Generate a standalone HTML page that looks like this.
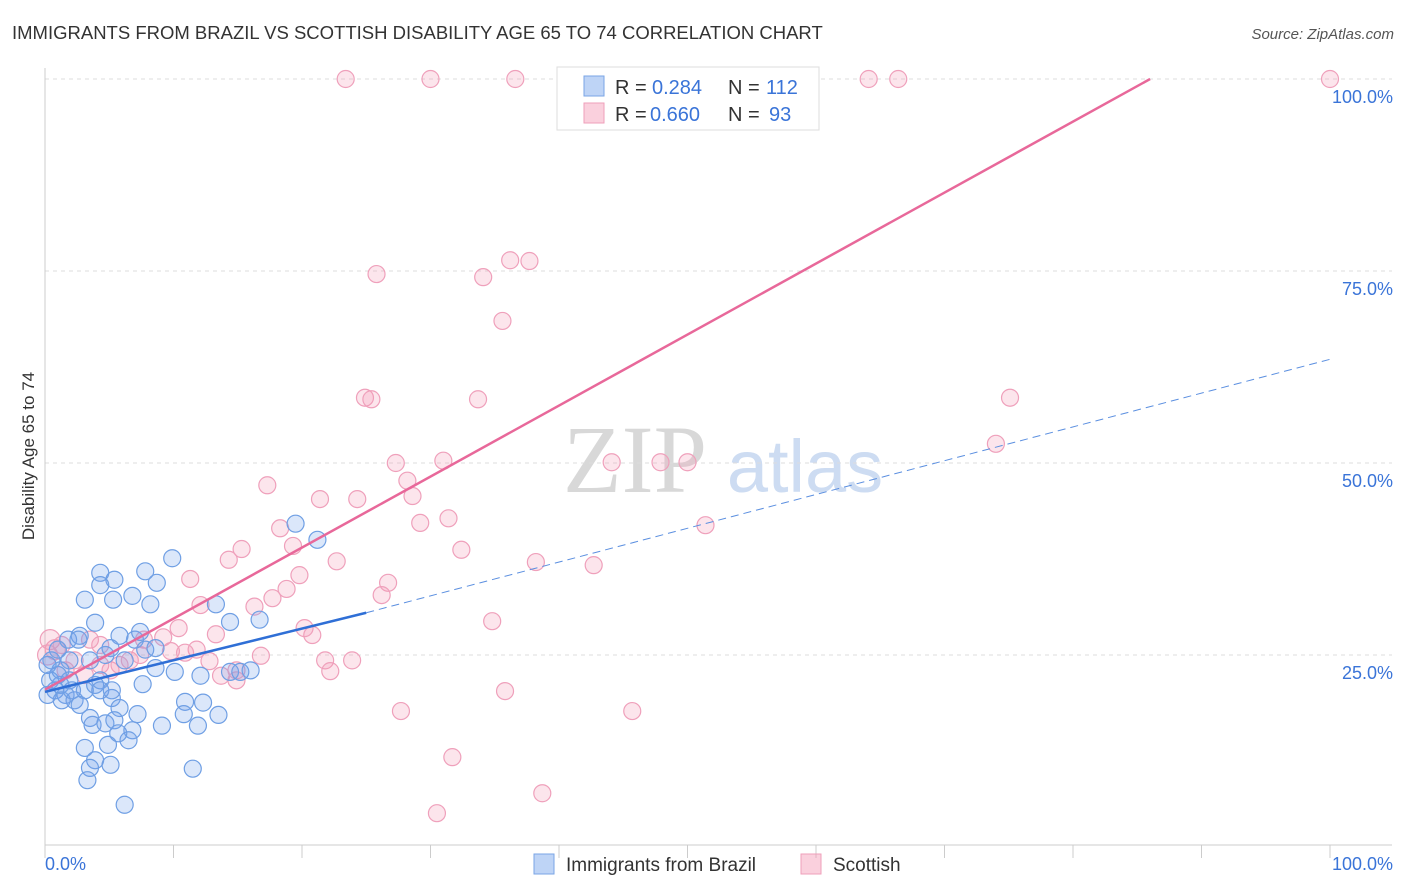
<!DOCTYPE html>
<html><head><meta charset="utf-8">
<style>
body{margin:0;background:#fff;font-family:"Liberation Sans",sans-serif;}
#wrap{position:relative;width:1406px;height:892px;overflow:hidden;}
</style></head>
<body>
<div id="wrap">
<svg id="svg" width="1406" height="892" xmlns="http://www.w3.org/2000/svg">
<text x="12" y="39" font-size="18.5" fill="#333">IMMIGRANTS FROM BRAZIL VS SCOTTISH DISABILITY AGE 65 TO 74 CORRELATION CHART</text>
<text x="1394" y="39" font-size="15" fill="#555" font-style="italic" text-anchor="end">Source: ZipAtlas.com</text>
<text x="34" y="456" font-size="17" fill="#333" text-anchor="middle" transform="rotate(-90 34 456)">Disability Age 65 to 74</text>
<text x="635" y="492" font-size="96" fill="#d8d8d8" font-family="Liberation Serif,serif" text-anchor="middle">ZIP</text>
<text x="805" y="492" font-size="74" fill="#cddcf2" text-anchor="middle">atlas</text>
<g id="grid"></g><g id="marks"></g>
<g>
<rect x="557" y="67" width="262" height="63" fill="#fff" stroke="#ddd"/>
<rect x="584" y="76" width="20" height="20" fill="rgba(110,160,235,0.45)" stroke="#7aa5e6"/>
<rect x="584" y="103" width="20" height="20" fill="rgba(245,150,180,0.45)" stroke="#ef9fba"/>
<g font-size="20" fill="#333">
<text x="615" y="94">R =</text>
<text x="652" y="94" fill="#3a74d8">0.284</text>
<text x="728" y="94">N =</text>
<text x="766" y="94" fill="#3a74d8">112</text>
<text x="615" y="121">R =</text>
<text x="650" y="121" fill="#3a74d8">0.660</text>
<text x="728" y="121">N =</text>
<text x="769" y="121" fill="#3a74d8">93</text>
</g>
</g>
<g>
<rect x="534" y="854" width="20" height="20" fill="rgba(110,160,235,0.45)" stroke="#7aa5e6"/>
<text x="566" y="871" font-size="19" fill="#333">Immigrants from Brazil</text>
<rect x="801" y="854" width="20" height="20" fill="rgba(245,150,180,0.45)" stroke="#ef9fba"/>
<text x="833" y="871" font-size="19" fill="#333">Scottish</text>
</g>
</svg>
</div>
<script>
const yTicks=[25,50,75,100];
const yTickLabels=["25.0%","50.0%","75.0%","100.0%"];
const xTicks=[0,10,20,30,40,50,60,70,80,90,100];
const brazilX=[3.1,4.3,5.4,4.3,7.8,9.9,8.7,6.8,8.2,5.3,13.3,14.4,16.7,19.5,21.2,2.7,3.9,5.8,7.0,5.1,7.4,7.8,8.6,6.2,4.7,3.5,1.9,1.2,0.4,0.8,1.6,2.3,3.1,3.9,4.3,1.2,1.9,2.7,0.2,0.5,1.0,1.8,2.6,8.6,10.1,12.1,14.4,15.2,16.0,7.6,5.2,5.8,7.2,9.1,10.9,12.3,10.8,11.9,13.5,3.5,3.7,4.7,5.4,6.8,6.5,4.9,5.7,3.1,3.9,3.5,5.1,3.3,6.2,11.5,4.3,1.3,1.0,5.2,2.1,0.2];
const brazilY=[32.2,35.7,34.8,34.1,35.9,37.6,34.4,32.7,31.6,32.2,31.6,29.3,29.6,42.1,40.0,27.5,29.2,27.5,27.0,25.9,28.0,25.7,25.9,24.3,25.0,24.3,24.3,23.0,21.7,20.4,19.8,19.1,20.4,21.1,21.7,21.1,21.7,18.5,19.8,24.3,25.7,27.0,27.0,23.3,22.8,22.3,22.8,22.8,23.0,21.2,19.4,18.1,17.3,15.8,18.9,18.8,17.3,15.8,17.2,16.8,15.9,16.1,16.5,15.2,13.9,13.3,14.8,12.9,11.3,10.3,10.7,8.7,5.5,10.2,20.4,19.1,22.4,20.4,20.4,23.7];
const scotX=[23.4,30.0,36.6,52.5,55.3,64.1,66.4,100,25.8,34.1,36.2,37.7,35.6,24.9,25.4,33.7,75.1,74.0,27.3,31.0,44.1,47.9,50.0,28.2,28.6,21.4,24.3,17.3,18.3,19.3,15.3,29.2,31.4,32.4,51.4,38.2,42.7,22.7,26.7,26.2,19.8,14.3,11.3,12.1,16.3,17.7,18.8,34.8,13.3,10.4,9.2,7.7,20.8,20.2,16.8,21.8,23.9,22.2,12.8,11.8,9.8,10.9,14.9,14.9,13.7,35.8,27.7,45.7,31.7,38.7,30.5,6.6,4.3,3.1,1.6,0.8,0.4,0.2,1.3,2.3,5.1,5.8,7.4,4.3,3.5];
const scotY=[100,100,100,100,100,100,100,100,74.6,74.2,76.4,76.3,68.5,58.5,58.3,58.3,58.5,52.5,50.0,50.3,50.1,50.1,50.1,47.7,45.7,45.3,45.3,47.1,41.5,39.2,38.8,42.2,42.8,38.7,41.9,37.1,36.7,37.2,34.4,32.8,35.4,37.4,34.9,31.5,31.3,32.4,33.6,29.4,27.7,28.5,27.3,27.0,27.6,28.5,24.9,24.3,24.3,22.9,24.2,25.7,25.5,25.3,23.0,21.7,22.3,20.3,17.7,17.7,11.7,7.0,4.4,24.3,23.7,22.4,23.0,25.7,27.0,25.0,26.3,24.3,23.0,23.7,25.0,26.3,27.0];
const brazilTrend=[[0,20.2],[25,30.5],[100,63.5]];
const scotTrend=[[0,20.5],[86,100]];

const NS="http://www.w3.org/2000/svg";
const X0=45,X1=1330,Y0=847,Y1=79;
const sx=v=>X0+(X1-X0)*v/100;
const sy=v=>Y0-(Y0-Y1)*v/100;
function mk(tag,attrs,parent){const e=document.createElementNS(NS,tag);for(const k in attrs)e.setAttribute(k,attrs[k]);parent.appendChild(e);return e;}
const grid=document.getElementById('grid'),marks=document.getElementById('marks');
yTicks.forEach((t,i)=>{
  const l=mk('line',{x1:45,x2:1392,y1:sy(t),y2:sy(t),stroke:'#ddd','stroke-dasharray':'4,4'},grid);
  
  
  const tx=mk('text',{x:1393,y:sy(t)+24,'font-size':18,fill:'#3a74d8','text-anchor':'end'},grid);
  tx.textContent=yTickLabels[i];
  
  
});
const la=mk('line',{x1:45,x2:45,y1:68,y2:845,stroke:'#ccc'},grid);


const lb=mk('line',{x1:45,x2:1392,y1:845,y2:845,stroke:'#ccc'},grid);


xTicks.forEach(t=>{
  const l=mk('line',{x1:sx(t),x2:sx(t),y1:845,y2:858,stroke:'#ccc'},grid);
  
  
});
const xl0=mk('text',{x:45,y:870,'font-size':18,fill:'#3a74d8'},grid);xl0.textContent='0.0%';


const xl1=mk('text',{x:1393,y:870,'font-size':18,fill:'#3a74d8','text-anchor':'end'},grid);xl1.textContent='100.0%';



scotX.forEach((v,i)=>{
  const c=mk('circle',{cx:sx(v),cy:sy(scotY[i]),r:(v<1?10:8.5),fill:'rgba(245,150,180,0.25)',stroke:'#efa0bb','stroke-width':1.2},marks);
  
  
});
brazilX.forEach((v,i)=>{
  const c=mk('circle',{cx:sx(v),cy:sy(brazilY[i]),r:8.5,fill:'rgba(110,160,235,0.25)',stroke:'#6f9fe4','stroke-width':1.2},marks);
  
  
});
const bs=mk('line',{x1:sx(brazilTrend[0][0]),y1:sy(brazilTrend[0][1]),x2:sx(brazilTrend[1][0]),y2:sy(brazilTrend[1][1]),stroke:'#2f6fd6','stroke-width':2.5},marks);


const bd=mk('line',{x1:sx(brazilTrend[1][0]),y1:sy(brazilTrend[1][1]),x2:sx(brazilTrend[2][0]),y2:sy(brazilTrend[2][1]),stroke:'#5b8fe0','stroke-width':1,'stroke-dasharray':'8,5'},marks);


const ps=mk('line',{x1:sx(scotTrend[0][0]),y1:sy(scotTrend[0][1]),x2:sx(scotTrend[1][0]),y2:sy(scotTrend[1][1]),stroke:'#e8689a','stroke-width':2.5},marks);


</script>
</body></html>
